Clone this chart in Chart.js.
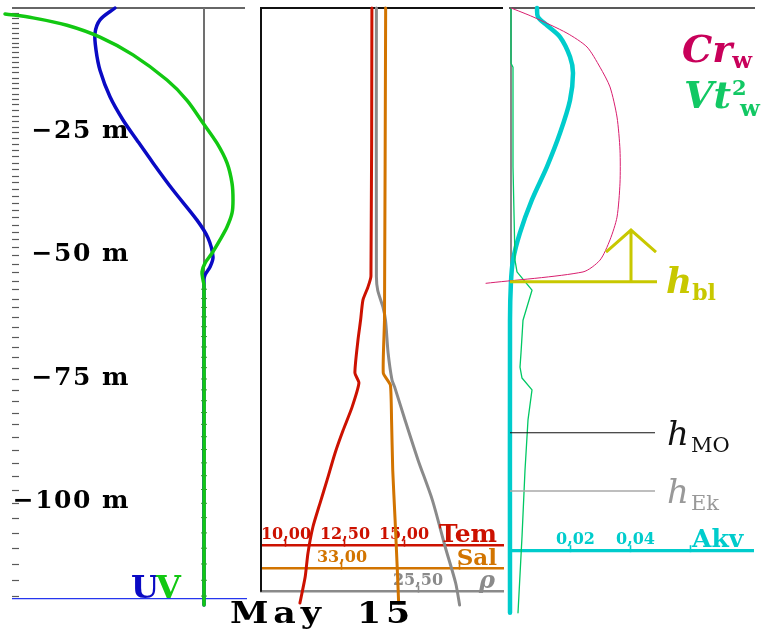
<!DOCTYPE html>
<html>
<head>
<meta charset="utf-8">
<title>May 15 profiles</title>
<script src="https://cdn.jsdelivr.net/npm/chart.js@4.4.1/dist/chart.umd.min.js"></script>
<style>
  html, body { margin: 0; padding: 0; background: #fff; }
  #wrap { position: relative; width: 765px; height: 641px; overflow: hidden; }
  #wrap canvas { position: absolute; left: 0; top: 0; }
</style>
</head>
<body>
<div id="wrap">
  <canvas id="uvChart" width="765" height="641"></canvas>
  <canvas id="tsChart" width="765" height="641"></canvas>
  <canvas id="mixChart" width="765" height="641"></canvas>
</div>
<script>
// ---------- profile data (depth in m, negative downward) ----------
const dateLabel = 'May 15';
const depthTicks = [-25, -50, -75, -100];

// model levels
const levelDepths = [-1.1, -2.1, -3.1, -4.1, -5.1, -6.0, -7.0, -8.0, -9.0, -10.0, -11.0, -12.0, -13.0,
  -14.1, -15.2, -16.3, -17.4, -18.4, -19.5, -20.6, -21.8, -22.9, -24.1, -25.2, -26.4, -27.6, -28.8,
  -30.0, -31.4, -32.6, -34.0, -35.3, -36.7, -38.1, -39.5, -41.0, -42.4, -43.9, -45.4, -46.9, -48.5,
  -50.1, -51.9, -53.6, -55.3, -57.0, -58.9, -60.7, -62.6, -64.6, -66.6, -68.7, -70.8, -72.9, -75.2,
  -77.4, -79.6, -82.0, -84.4, -86.9, -89.5, -92.2, -94.8, -97.6, -100.4, -103.3, -106.4, -109.5,
  -112.7, -116.0, -119.2];

// velocity components, cm/s
const uDepth = [0, -2.4, -5.1, -8.5, -12.6, -18.0, -22.7, -26.8, -31.4, -36.9, -43.0, -46.6, -50.5, -52.5, -54.1, -55.1, -121.0];
const uVel   = [-8.9, -10.4, -10.9, -10.8, -10.4, -9.4, -8.1, -6.7, -5.1, -3.1, -0.7, 0.4, 0.9, 0.6, 0.1, 0.0, 0.0];
const vDepth = [-1.2, -2.0, -3.5, -5.9, -9.5, -14.6, -18.7, -23.3, -27.4, -31.4, -35.5, -38.9, -41.6, -44.4, -47.0, -49.7, -51.7, -53.5, -55.1, -56.2, -121.0];
const vVel   = [-19.9, -17.1, -13.7, -10.4, -7.1, -3.7, -1.7, -0.1, 1.3, 2.3, 2.8, 2.9, 2.8, 2.3, 1.6, 0.8, 0.1, -0.2, -0.1, 0.0, 0.0];

// temperature (degC), salinity, density (sigma)
const tempDepth = [0, -54.3, -56.6, -59.2, -63.3, -67.3, -74.0, -76.0, -80.9, -85.6, -90.2, -95.7, -100.4, -105.2, -110.5, -115.4, -120.6];
const temp      = [13.64, 13.60, 13.47, 13.26, 13.16, 13.05, 12.92, 13.09, 12.80, 12.42, 12.08, 11.74, 11.44, 11.14, 10.93, 10.81, 10.59];
const salDepth  = [0, -63.3, -74.0, -76.4, -83.5, -93.7, -103.8, -114.5, -120.6];
const sal       = [33.37, 33.36, 33.35, 33.41, 33.42, 33.43, 33.45, 33.47, 33.48];
const rhoDepth  = [0, -54.5, -57.2, -60.6, -63.3, -69.9, -75.4, -76.8, -83.5, -91.6, -99.7, -109.3, -116.6, -121.0];
const rho       = [25.18, 25.18, 25.19, 25.23, 25.25, 25.27, 25.30, 25.32, 25.40, 25.50, 25.61, 25.71, 25.79, 25.82];

// vertical diffusivity, Cr_w and Vt^2_w profiles
const akvDepth = [0, -1.8, -3.5, -5.9, -9.9, -13.2, -18.7, -25.3, -32.2, -38.9, -45.6, -51.1, -55.8, -63.3, -122.6];
const akv      = [0.0090, 0.0093, 0.0123, 0.0167, 0.0200, 0.0210, 0.0200, 0.0167, 0.0123, 0.0073, 0.0033, 0.0010, 0.0003, 0.0, 0.0];
const crDepth  = [0, -1.8, -5.1, -7.9, -12.0, -16.0, -22.1, -28.8, -35.5, -42.4, -47.0, -51.1, -53.5, -55.8];
const crW      = [0.01, 0.23, 0.57, 0.77, 0.90, 1.00, 1.07, 1.10, 1.10, 1.07, 1.00, 0.90, 0.73, -0.24];
const vt2Depth = [0, -11.2, -12.0, -32.2, -51.1, -53.5, -57.2, -63.3, -69.9, -72.8, -75.0, -77.4, -83.5, -93.7, -107.2, -122.6];
const vt2W     = [0.01, 0.01, 0.03, 0.03, 0.05, 0.07, 0.22, 0.13, 0.11, 0.10, 0.12, 0.22, 0.18, 0.15, 0.12, 0.08];

// boundary-layer, Monin-Obukhov and Ekman depths
const hBL = -55.5;
const hMO = -86.1;
const hEk = -97.9;

// axis ticks and their labels
const tempTicks = [10, 12.5, 15];      const tempLabels = ['10,00', '12,50', '15,00'];
const salTicks  = [33, 34];            const salLabels  = ['33,00', ''];
const rhoTicks  = [25.5];              const rhoLabels  = ['25,50'];
const akvTicks  = [0.02, 0.04, 0.06];  const akvLabels  = ['0,02', '0,04', ''];

// ---------- helpers ----------
const DEPTH_MIN = -120.2, DEPTH_MAX = 0;
const SERIF = '"DejaVu Serif", "Liberation Serif", serif';
const pts = (zs, xs) => zs.map((z, i) => ({ x: xs[i], y: z }));
const noPad = s => { s.paddingTop = 0; s.paddingBottom = 0; s.paddingLeft = 0; s.paddingRight = 0; };

const C = {
  u: '#0a0ac4', v: '#12c812', zero: '#707070',
  tem: '#cc1100', sal: '#d27400', rho: '#8a8a8a',
  akv: '#00cccc', cr: '#d81e6e', crText: '#c8005a', vt: '#00c864', vtText: '#12c864',
  hbl: '#c8c800', hmo: '#111111', hek: '#a8a8a8'
};

function depthScale(display) {
  return { type: 'linear', axis: 'y', min: DEPTH_MIN, max: DEPTH_MAX, bounds: 'data', display, afterFit: noPad };
}

function lineSet(label, data, xAxisID, color, width, tension) {
  return {
    label, data, xAxisID, yAxisID: 'y', showLine: true,
    borderColor: color, backgroundColor: color, borderWidth: width,
    pointRadius: 0, pointHoverRadius: 0, tension,
    borderJoinStyle: 'round', borderCapStyle: 'round', clip: false
  };
}

function valueAxis(color, min, max, depth, ticks, labels, borderWidth, labelOffset) {
  return {
    type: 'linear', axis: 'x', min, max, bounds: 'data',
    position: { y: depth },
    grid: { display: true, drawOnChartArea: false, drawTicks: true, tickLength: -7,
            tickWidth: 1.6, tickColor: color, color, lineWidth: 1 },
    border: { display: true, color, width: borderWidth },
    ticks: {
      color, autoSkip: false, maxRotation: 0, minRotation: 0, padding: -11.5,
      labelOffset: labelOffset || 0,
      font: { family: SERIF, weight: 'bold', size: 16, lineHeight: 1 },
      callback: (v, i) => labels[i]
    },
    afterBuildTicks: s => { s.ticks = ticks.map(v => ({ value: v })); },
    afterFit: noPad
  };
}

function drawText(ctx, str, x, y, font, color, align, spacing, scaleX, wordSpacing) {
  ctx.save();
  ctx.font = font;
  ctx.fillStyle = color;
  ctx.textAlign = align || 'left';
  ctx.textBaseline = 'alphabetic';
  ctx.letterSpacing = spacing || '0px';
  ctx.wordSpacing = wordSpacing || '0px';
  ctx.translate(x, y);
  ctx.scale(scaleX || 1, 1);
  ctx.fillText(str, 0, 0);
  const w = ctx.measureText(str).width * (scaleX || 1);
  ctx.restore();
  return w;
}

function hLine(ctx, x1, x2, y, color, width) {
  ctx.save();
  ctx.strokeStyle = color; ctx.lineWidth = width;
  ctx.beginPath(); ctx.moveTo(x1, y); ctx.lineTo(x2, y); ctx.stroke();
  ctx.restore();
}
function vLine(ctx, x, y1, y2, color, width) {
  ctx.save();
  ctx.strokeStyle = color; ctx.lineWidth = width;
  ctx.beginPath(); ctx.moveTo(x, y1); ctx.lineTo(x, y2); ctx.stroke();
  ctx.restore();
}

const common = {
  responsive: false, animation: false, devicePixelRatio: 1, events: [],
  plugins: { legend: { display: false }, tooltip: { enabled: false }, title: { display: false } }
};

// ---------- left panel: U, V ----------
const PANEL1_LEFT = 12, PANEL1_RIGHT = 245, BOTTOM_LINE_DEPTH = -119.7;

new Chart(document.getElementById('uvChart'), {
  type: 'scatter',
  data: {
    datasets: [
      {
        label: 'V levels', data: levelDepths.filter(z => z < -56).map(z => ({ x: 0, y: z })),
        xAxisID: 'xUV', yAxisID: 'y', showLine: false, pointStyle: 'line',
        pointRadius: 3, pointHoverRadius: 0, pointBorderWidth: 1, pointBorderColor: '#2aa82a', clip: false
      },
      lineSet('V', pts(vDepth, vVel), 'xUV', C.v, 3.5, 0.3),
      lineSet('U', pts(uDepth, uVel), 'xUV', C.u, 3.5, 0.3)
    ]
  },
  options: {
    ...common,
    layout: { padding: { left: PANEL1_LEFT, right: 765 - PANEL1_RIGHT, top: 8, bottom: 40 } },
    scales: {
      xUV: { type: 'linear', axis: 'x', display: false, min: -7.4, max: 4.1, bounds: 'data' },
      y: {
        type: 'linear', axis: 'y', position: 'left', min: DEPTH_MIN, max: DEPTH_MAX, bounds: 'data',
        grid: { display: false, drawTicks: false }, border: { display: false },
        ticks: {
          color: '#000', padding: 0, autoSkip: false,
          font: { family: SERIF, weight: 'bold', size: 25 },
          callback: v => '\u2212' + Math.abs(v) + ' m'
        },
        afterBuildTicks: s => { s.ticks = depthTicks.map(v => ({ value: v })); },
        afterFit: s => { s.width = 118; noPad(s); }
      }
    }
  },
  plugins: [{
    id: 'uvFrame',
    beforeDraw(chart) { chart.ctx.letterSpacing = '1.5px'; },
    beforeDatasetsDraw(chart) {
      const { ctx, scales: { y, xUV } } = chart;
      levelDepths.forEach(z => hLine(ctx, PANEL1_LEFT, PANEL1_LEFT + 7, Math.round(y.getPixelForValue(z)) + 0.5, '#5a5a5a', 1.2));
      hLine(ctx, PANEL1_LEFT, PANEL1_RIGHT, y.getPixelForValue(0), '#333', 1.4);
      vLine(ctx, xUV.getPixelForValue(0), y.getPixelForValue(0), y.getPixelForValue(BOTTOM_LINE_DEPTH), C.zero, 2);
      hLine(ctx, PANEL1_LEFT, PANEL1_RIGHT + 2, y.getPixelForValue(BOTTOM_LINE_DEPTH), '#2536ee', 1.2);
    },
    afterDraw(chart) {
      const { ctx, scales: { y } } = chart;
      const base = y.getPixelForValue(BOTTOM_LINE_DEPTH) - 1;
      const wU = drawText(ctx, 'U', 131, base, 'bold 32px ' + SERIF, C.u);
      drawText(ctx, 'V', 131 + wU - 3, base, 'bold 32px ' + SERIF, C.v);
    }
  }]
});

// ---------- middle panel: temperature, salinity, density ----------
const TEM_AXIS = -108.9, SAL_AXIS = -113.6, RHO_AXIS = -118.3;

new Chart(document.getElementById('tsChart'), {
  type: 'scatter',
  data: {
    datasets: [
      lineSet('Tem', pts(tempDepth, temp), 'xT', C.tem, 3, 0.2),
      lineSet('Sal', pts(salDepth, sal), 'xS', C.sal, 3, 0.15),
      lineSet('rho', pts(rhoDepth, rho), 'xR', C.rho, 3, 0.25)
    ]
  },
  options: {
    ...common,
    layout: { padding: { left: 261, right: 262, top: 8, bottom: 40 } },
    scales: {
      y: depthScale(false),
      xT: valueAxis(C.tem, 8.9407, 19.1949, TEM_AXIS, tempTicks, tempLabels, 2.6),
      xS: valueAxis(C.sal, 32.3136, 34.3644, SAL_AXIS, salTicks, salLabels, 2.6),
      xR: valueAxis(C.rho, 24.2923, 26.1538, RHO_AXIS, rhoTicks, rhoLabels, 2.6)
    }
  },
  plugins: [{
    id: 'tsFrame',
    beforeDatasetsDraw(chart) {
      const { ctx, chartArea: a, scales: { y } } = chart;
      hLine(ctx, a.left - 1, a.right, y.getPixelForValue(0), '#111', 2);
      vLine(ctx, a.left, y.getPixelForValue(0) - 1, y.getPixelForValue(RHO_AXIS), '#111', 2);
    },
    afterDraw(chart) {
      const { ctx, chartArea: a, scales: { y } } = chart;
      drawText(ctx, 'Tem', a.right - 6, y.getPixelForValue(TEM_AXIS) - 3, 'bold 25px ' + SERIF, C.tem, 'right');
      drawText(ctx, 'Sal', a.right - 6, y.getPixelForValue(SAL_AXIS) - 3, 'bold 23px ' + SERIF, C.sal, 'right');
      drawText(ctx, '\u03c1', a.right - 8, y.getPixelForValue(RHO_AXIS) - 4, 'bold italic 24px ' + SERIF, C.rho, 'right');
      drawText(ctx, dateLabel, 230, 623, 'bold 29px ' + SERIF, '#000', 'left', '4px', 1.2, '12px');
    }
  }]
});

// ---------- right panel: Akv, Cr_w, Vt^2_w and layer depths ----------
const AKV_AXIS = -109.9;

new Chart(document.getElementById('mixChart'), {
  type: 'scatter',
  data: {
    datasets: [
      lineSet('Cr_w', pts(crDepth, crW), 'xCr', C.cr, 1, 0.25),
      lineSet('Vt2_w', pts(vt2Depth, vt2W), 'xVt', C.vt, 1.3, 0),
      lineSet('Akv', pts(akvDepth, akv), 'xA', C.akv, 4.5, 0.3)
    ]
  },
  options: {
    ...common,
    layout: { padding: { left: 510, right: 12, top: 8, bottom: 40 } },
    scales: {
      y: depthScale(false),
      xA: valueAxis(C.akv, 0, 0.081, AKV_AXIS, akvTicks, akvLabels, 3.2, 5.5),
      xCr: { type: 'linear', axis: 'x', display: false, min: 0, max: 2.43, bounds: 'data' },
      xVt: { type: 'linear', axis: 'x', display: false, min: 0, max: 2.43, bounds: 'data' }
    }
  },
  plugins: [{
    id: 'mixFrame',
    beforeDatasetsDraw(chart) {
      const { ctx, chartArea: a, scales: { y } } = chart;
      hLine(ctx, a.left - 1, a.right + 2, y.getPixelForValue(0), '#222', 1.3);
      vLine(ctx, a.left + 1, y.getPixelForValue(0), a.bottom, '#111', 1);
    },
    afterDatasetsDraw(chart) {
      const { ctx, chartArea: a, scales: { y } } = chart;
      const yb = y.getPixelForValue(hBL);
      hLine(ctx, a.left, a.left + 147, yb, C.hbl, 3);
      // upward arrow on the boundary-layer depth
      const ax = a.left + 121, top = y.getPixelForValue(hBL + 10.5);
      ctx.save();
      ctx.strokeStyle = C.hbl; ctx.lineWidth = 3; ctx.lineJoin = 'miter';
      ctx.beginPath();
      ctx.moveTo(ax, yb); ctx.lineTo(ax, top);
      ctx.moveTo(ax - 25, top + 22); ctx.lineTo(ax, top); ctx.lineTo(ax + 25, top + 22);
      ctx.stroke();
      ctx.restore();
      hLine(ctx, a.left, a.left + 145, y.getPixelForValue(hMO), C.hmo, 1.2);
      hLine(ctx, a.left, a.left + 145, y.getPixelForValue(hEk), C.hek, 1.6);
    },
    afterDraw(chart) {
      const { ctx, scales: { y } } = chart;
      // series names
      let w = drawText(ctx, 'Cr', 682, 62, 'bold italic 38px ' + SERIF, C.crText);
      drawText(ctx, 'w', 682 + w, 68, 'bold 23px ' + SERIF, C.crText);
      w = drawText(ctx, 'Vt', 684, 108, 'bold italic 38px ' + SERIF, C.vtText);
      drawText(ctx, '2', 684 + w + 1, 95, 'bold 21px ' + SERIF, C.vtText);
      drawText(ctx, 'w', 684 + w + 9, 116, 'bold 23px ' + SERIF, C.vtText);
      // layer depth names
      const yb = y.getPixelForValue(hBL), ym = y.getPixelForValue(hMO), ye = y.getPixelForValue(hEk);
      w = drawText(ctx, 'h', 666, yb + 11, 'bold italic 36px ' + SERIF, C.hbl);
      drawText(ctx, 'bl', 666 + w, yb + 18, 'bold 22px ' + SERIF, C.hbl);
      w = drawText(ctx, 'h', 667, ym + 12, 'italic 34px ' + SERIF, C.hmo);
      drawText(ctx, 'MO', 667 + w + 2, ym + 19, '21px ' + SERIF, C.hmo);
      w = drawText(ctx, 'h', 667, ye + 12, 'italic 34px ' + SERIF, '#999');
      drawText(ctx, 'Ek', 667 + w + 2, ye + 19, '21px ' + SERIF, '#999');
      // diffusivity axis name
      drawText(ctx, 'Akv', 692, y.getPixelForValue(AKV_AXIS) - 3, 'bold 25px ' + SERIF, C.akv);
    }
  }]
});
</script>
</body>
</html>
